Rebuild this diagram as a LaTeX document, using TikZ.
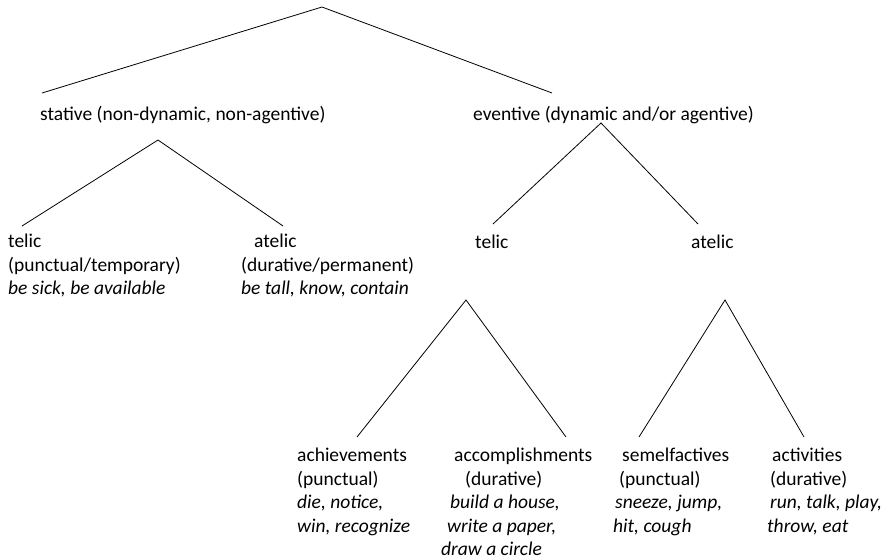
\documentclass[tikz,border=0pt]{standalone}
\usepackage{fontspec}
\setmainfont{Carlito}
\begin{document}
\begin{tikzpicture}[x=1pt,y=-1pt,
  lbl/.style={anchor=base west,inner sep=0pt,align=left,
    font=\fontsize{19.5}{23.5}\selectfont},
  branch/.style={draw=black,line width=0.8pt}]
\useasboundingbox (0,0) rectangle (887,557);

% category labels (multi-line labels sit on the baseline of their last line)
\node[lbl] (stat) at (40,120) {stative (non-dynamic, non-agentive)};
\node[lbl] (even) at (473,120) {eventive (dynamic and/or agentive)};
\node[lbl] (stel) at (8,294.7) {telic\\(punctual/temporary)\\\textit{be sick, be available}};
\node[lbl] (satel) at (241,294.7) {\hspace*{13pt}atelic\\(durative/permanent)\\\textit{be tall, know, contain}};
\node[lbl] (etel) at (475,248) {telic};
\node[lbl] (eatel) at (691,248) {atelic};
\node[lbl] (ach) at (297,532.2) {achievements\\(punctual)\\\textit{die, notice,}\\\textit{win, recognize}};
\node[lbl] (acc) at (441,555.7) {\hspace*{13pt}accomplishments\\\hspace*{24pt}(durative)\\\hspace*{9pt}\textit{build a house,}\\\hspace*{6pt}\textit{write a paper,}\\\textit{draw a circle}};
\node[lbl] (sem) at (613,532.2) {\hspace*{9pt}semelfactives\\\hspace*{6pt}(punctual)\\\hspace*{2pt}\textit{sneeze, jump,}\\\textit{hit, cough}};
\node[lbl] (act) at (767,532.2) {\hspace*{5pt}activities\\\hspace*{3pt}(durative)\\\hspace*{3pt}\textit{run, talk, play,}\\\textit{throw, eat}};

% branching points and branch ends
\coordinate (root) at (322,7);
\coordinate (rootL) at (42,93);
\coordinate (rootR) at (552,93);
\coordinate (statTop) at (158,140);
\coordinate (statL) at (22,226);
\coordinate (statR) at (283,226);
\coordinate (evenTop) at (601,123);
\coordinate (evenL) at (493,224);
\coordinate (evenR) at (698,224);
\coordinate (telTop) at (466,300);
\coordinate (telL) at (357,437);
\coordinate (telR) at (566,437);
\coordinate (atelTop) at (725,300);
\coordinate (atelL) at (639,437);
\coordinate (atelR) at (804,437);

% branches
\draw[branch] (rootL) -- (root) -- (rootR);
\draw[branch] (statL) -- (statTop) -- (statR);
\draw[branch] (evenL) -- (evenTop) -- (evenR);
\draw[branch] (telL) -- (telTop) -- (telR);
\draw[branch] (atelL) -- (atelTop) -- (atelR);
\end{tikzpicture}
\end{document}
